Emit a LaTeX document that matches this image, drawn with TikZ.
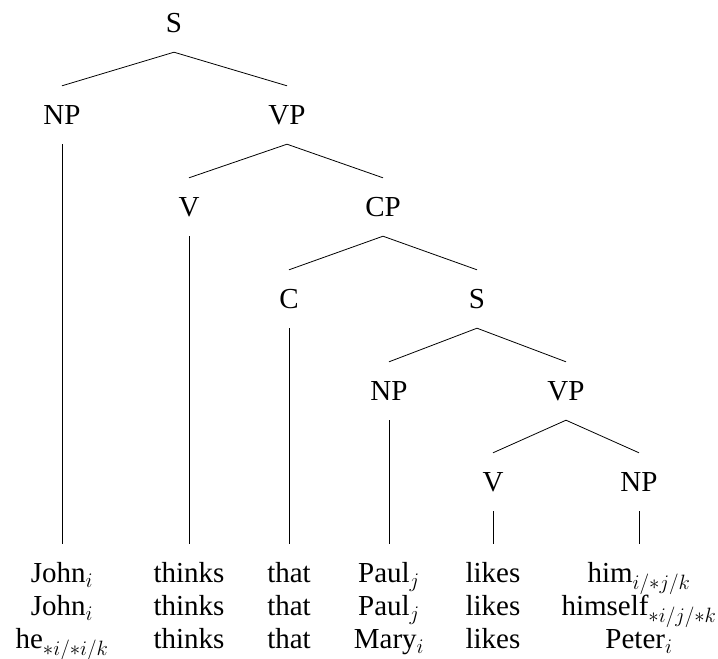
\documentclass[tikz,border=0pt]{standalone}
\usepackage{fontspec}
\setmainfont{Liberation Serif}
\begin{document}
\begin{tikzpicture}[x=1pt,y=-1pt,
  lab/.style={inner sep=0pt,minimum height=58pt,font=\fontsize{29}{33}\selectfont},
  word/.style={inner xsep=0pt,inner ysep=15pt,anchor=north,align=center,font=\fontsize{29}{33}\selectfont},
  edge/.style={line width=0.8pt}]
\useasboundingbox (0,0) rectangle (718,659);
\node[lab] (s1) at (174,23) {S};
\node[lab] (np1) at (62,115) {NP};
\node[lab] (vp1) at (287,115) {VP};
\node[lab] (v1) at (189,207) {V};
\node[lab] (cp) at (383,207) {CP};
\node[lab] (c) at (289,299) {C};
\node[lab] (s2) at (477,299) {S};
\node[lab] (np2) at (389,391) {NP};
\node[lab] (vp2) at (566,391) {VP};
\node[lab] (v2) at (493,482) {V};
\node[lab] (np3) at (639,482) {NP};
\node[word] (w1) at (62,544) {\strut John$_i$\\John$_i$\\he$_{*i/*i/k}$};
\node[word] (w2) at (189,544) {\strut thinks\\thinks\\thinks};
\node[word] (w3) at (289,544) {\strut that\\that\\that};
\node[word] (w4) at (389,544) {\strut Paul$_j$\\Paul$_j$\\Mary$_i$};
\node[word] (w5) at (493,544) {\strut likes\\likes\\likes};
\node[word] (w6) at (639,544) {\strut him$_{i/*j/k}$\\himself$_{*i/j/*k}$\\Peter$_i$};
\draw[edge] (np1.north) -- (s1.south) -- (vp1.north);
\draw[edge] (v1.north) -- (vp1.south) -- (cp.north);
\draw[edge] (c.north) -- (cp.south) -- (s2.north);
\draw[edge] (np2.north) -- (s2.south) -- (vp2.north);
\draw[edge] (v2.north) -- (vp2.south) -- (np3.north);
\draw[edge] (np1.south) -- (w1.north);
\draw[edge] (v1.south) -- (w2.north);
\draw[edge] (c.south) -- (w3.north);
\draw[edge] (np2.south) -- (w4.north);
\draw[edge] (v2.south) -- (w5.north);
\draw[edge] (np3.south) -- (w6.north);
\end{tikzpicture}
\end{document}
